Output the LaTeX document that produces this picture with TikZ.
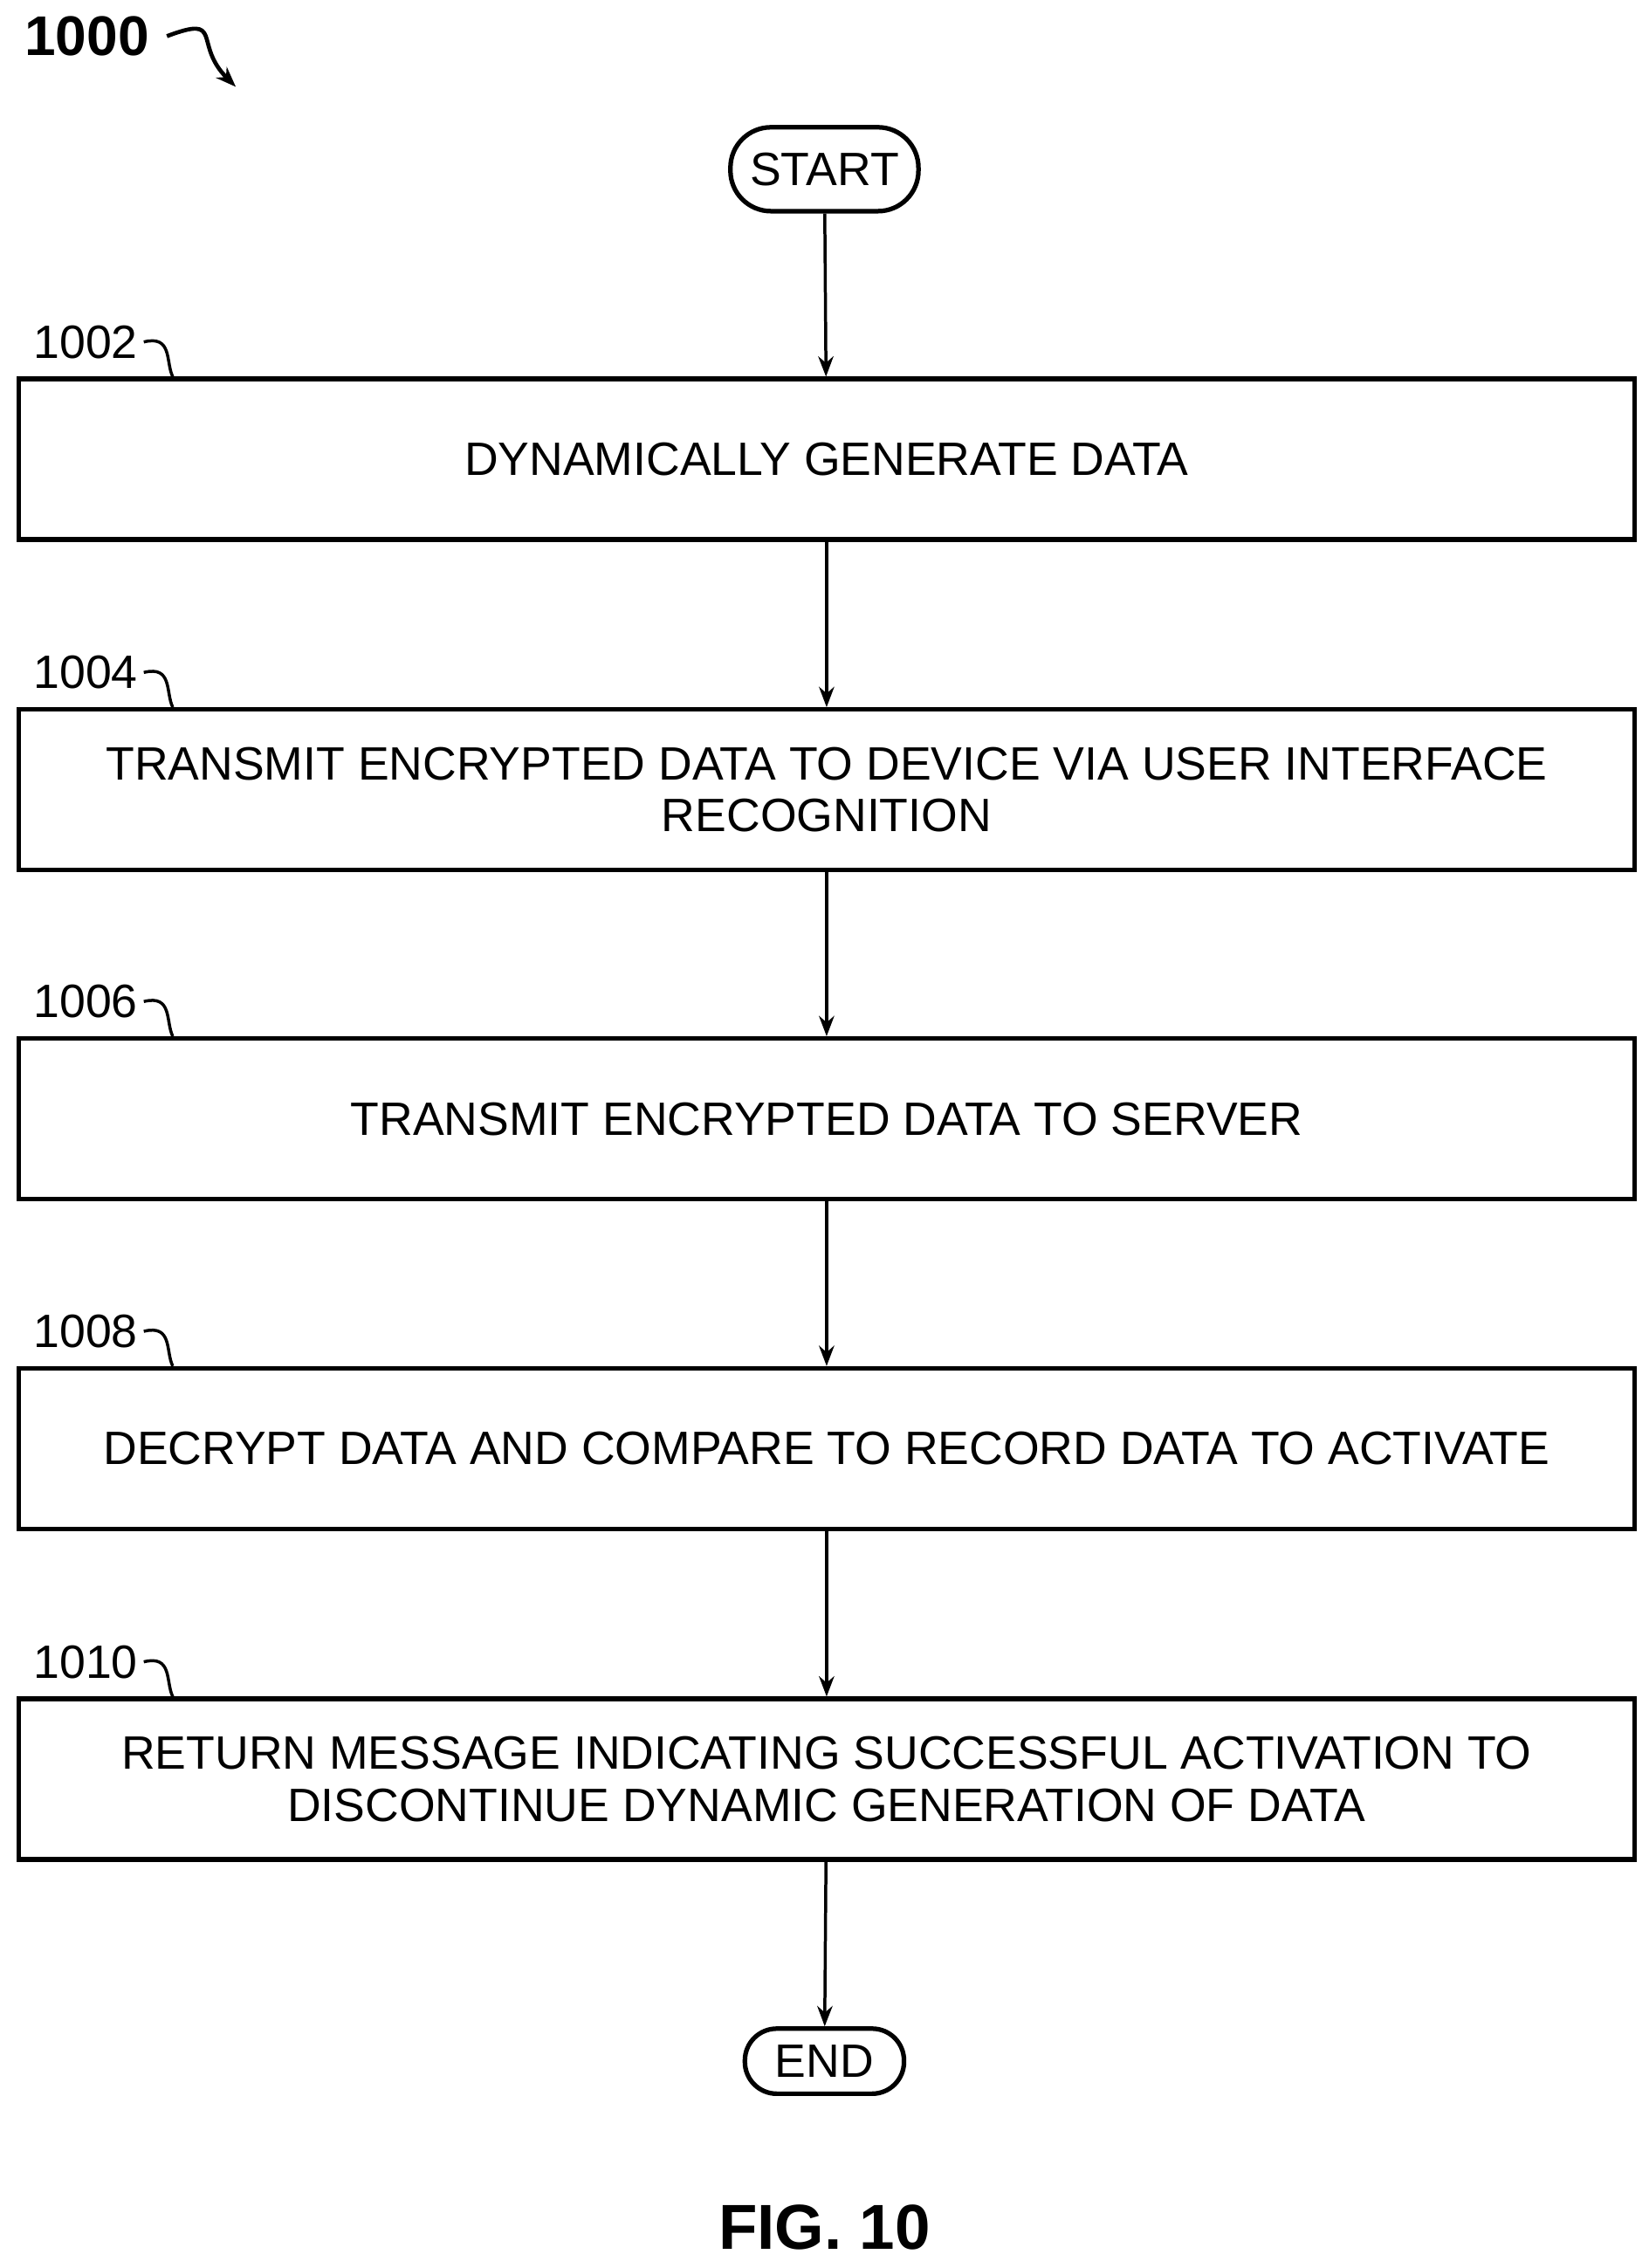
\documentclass[tikz,border=0pt]{standalone}
\usepackage{fontspec}
\setmainfont{Liberation Sans}
\usetikzlibrary{positioning,arrows.meta}
\begin{document}
\begin{tikzpicture}[x=1cm,y=1cm,
  font=\fontsize{9.2}{10.2}\selectfont,
  stepbox/.style={draw,line width=0.9pt,minimum width=11.17cm,minimum height=1.11cm,align=center},
  term/.style={draw,line width=0.9pt,rounded corners=0.28cm,inner sep=1pt},
  flow/.style={-{Stealth[length=4pt,width=3pt]},line width=0.6pt},
  tick/.style={line width=0.6pt}]
\useasboundingbox (0,0) rectangle (11.4,-15.68);
% terminals
\node[term,minimum width=1.3cm,minimum height=0.58cm] (start) at (5.7,-1.17) {START};
\node[term,minimum width=1.1cm,minimum height=0.45cm,rounded corners=0.22cm] (end) at (5.7,-14.25) {END};
% steps
\node[stepbox] (s1002) at (5.715,-3.175) {DYNAMICALLY GENERATE DATA};
\node[stepbox] (s1004) at (5.715,-5.46) {TRANSMIT ENCRYPTED DATA TO DEVICE VIA USER INTERFACE\\RECOGNITION};
\node[stepbox] (s1006) at (5.715,-7.735) {TRANSMIT ENCRYPTED DATA TO SERVER};
\node[stepbox] (s1008) at (5.715,-10.015) {DECRYPT DATA AND COMPARE TO RECORD DATA TO ACTIVATE};
\node[stepbox] (s1010) at (5.715,-12.3) {RETURN MESSAGE INDICATING SUCCESSFUL ACTIVATION TO\\DISCONTINUE DYNAMIC GENERATION OF DATA};
% reference numerals
\foreach \s in {1002,1004,1006,1008,1010}{
  \node[anchor=east,inner sep=1pt] (n\s) at ([xshift=0.88cm,yshift=0.24cm]s\s.north west) {\s};
  \draw[tick] (n\s.east) .. controls +(0.2,0.05) and +(-0.05,0.1) .. ([xshift=1.08cm]s\s.north west);
}
% arrows
\draw[flow] (start) -- (s1002);
\draw[flow] (s1002) -- (s1004);
\draw[flow] (s1004) -- (s1006);
\draw[flow] (s1006) -- (s1008);
\draw[flow] (s1008) -- (s1010);
\draw[flow] (s1010) -- (end);
% figure label
\node[font=\fontsize{11}{13}\selectfont\bfseries] (n1000) at (0.6,-0.25) {1000};
\coordinate (c1000) at (1.63,-0.6);
\draw[flow,line width=0.8pt] (n1000.east) .. controls +(0.4,0.15) and +(-0.3,0.3) .. (c1000);
\node[font=\fontsize{12.5}{14}\selectfont\bfseries] (fig) at (5.7,-15.4) {FIG. 10};
\end{tikzpicture}
\end{document}
